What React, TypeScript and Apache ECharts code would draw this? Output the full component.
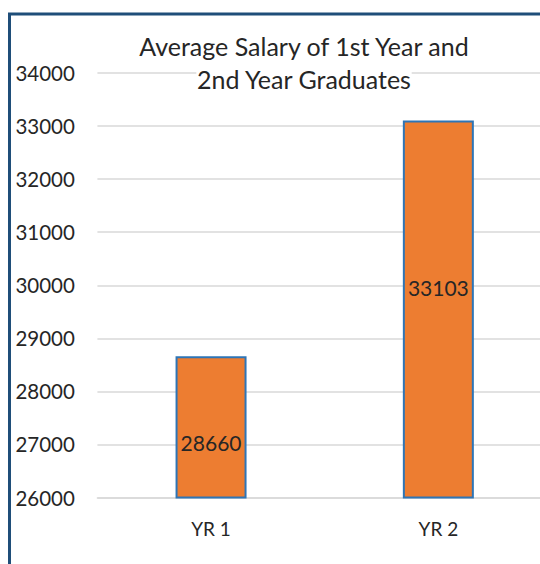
import React, { useEffect, useRef } from "react";
import * as echarts from "echarts";

const categories = ["YR 1", "YR 2"];
const salaries = [28660, 33103];
const yTicks = { min: 26000, max: 34000, interval: 1000 };
const titleLines = ["Average Salary of 1st Year and", "2nd Year Graduates"];

const FONT = "Lato";

export default function App() {
  const ref = useRef<HTMLDivElement>(null);
  useEffect(() => {
    if (!ref.current) return;
    const chart = echarts.init(ref.current, undefined, { renderer: "svg" });
    const labelOffsets = [[0, 15], [0, -22]];
    chart.setOption({
      animation: false,
      backgroundColor: "#ffffff",
      title: {
        text: titleLines.map((l) => `{t|${l}}`).join("\n"),
        left: 299,
        textAlign: "center",
        top: 24,
        z: 10,
        textStyle: {
          fontFamily: FONT,
          fontSize: 25,
          fontWeight: "normal",
          color: "#262626",
          lineHeight: 33,
          rich: {
            t: {
              fontFamily: FONT,
              fontSize: 25,
              color: "#262626",
              lineHeight: 33,
              backgroundColor: "#ffffff",
            },
          },
        },
      },
      graphic: [
        {
          type: "rect",
          shape: { x: 9.5, y: 14, width: 700, height: 700 },
          style: { fill: "none", stroke: "#1F4E79", lineWidth: 3 },
          silent: true,
          z: 100,
        },
      ],
      grid: { left: 97.4, top: 73, width: 454.6, height: 424.5 },
      xAxis: {
        type: "category",
        data: categories,
        axisLine: { show: true, lineStyle: { color: "#D9D9D9", width: 1.5 } },
        axisTick: { show: false },
        axisLabel: {
          fontFamily: FONT,
          fontSize: 19,
          color: "#262626",
          margin: 21,
        },
      },
      yAxis: {
        type: "value",
        min: yTicks.min,
        max: yTicks.max,
        interval: yTicks.interval,
        axisLine: { show: false },
        axisTick: { show: false },
        splitLine: { lineStyle: { color: "#D9D9D9", width: 1.5 } },
        axisLabel: {
          fontFamily: FONT,
          fontSize: 20.5,
          color: "#262626",
          align: "left",
          margin: 82,
          formatter: (v: number) => String(v),
        },
      },
      series: [
        {
          type: "bar",
          barWidth: 71,
          data: salaries.map((v, i) => ({
            value: v,
            label: { offset: labelOffsets[i] },
          })),
          itemStyle: {
            color: "#ED7D31",
            borderColor: "#2E75B6",
            borderWidth: 2,
          },
          label: {
            show: true,
            position: "inside",
            fontFamily: FONT,
            fontSize: 21,
            color: "#262626",
          },
        },
      ],
    });
    return () => chart.dispose();
  }, []);
  return (
    <div
      ref={ref}
      style={{ position: "fixed", left: 0, top: 0, width: 560, height: 564 }}
    />
  );
}
